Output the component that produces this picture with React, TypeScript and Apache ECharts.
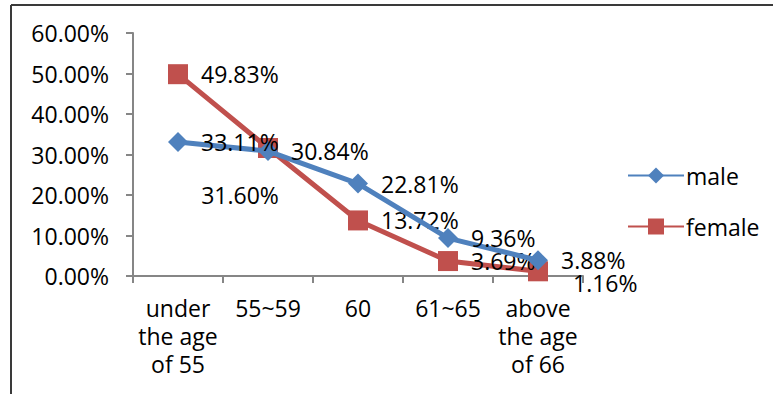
import React, { useEffect, useRef } from "react";
import * as echarts from "echarts";

const categories = ["under\nthe age\nof 55", "55~59", "60", "61~65", "above\nthe age\nof 66"];
const maleValues = [33.11, 30.84, 22.81, 9.36, 3.88];
const femaleValues = [49.83, 31.6, 13.72, 3.69, 1.16];
const yTicks = [0, 10, 20, 30, 40, 50, 60];

const FONT = "Open Sans";
const FS = 23;

export default function App() {
  const ref = useRef<HTMLDivElement>(null);
  useEffect(() => {
    if (!ref.current) return;
    const chart = echarts.init(ref.current, undefined, { renderer: "svg" });
    const labelBase = {
      show: true,
      position: "right" as const,
      distance: 13,
      color: "#000",
      fontFamily: FONT,
      fontSize: FS,
      formatter: (p: any) => p.value.toFixed(2) + "%",
    };
    const femaleData = femaleValues.map((v, i) => {
      if (i === 1) {
        return { value: v, label: { position: "bottom", distance: 25, offset: [-28, 0] } };
      }
      if (i === 4) {
        return { value: v, label: { offset: [12, 12] } };
      }
      return v;
    });
    chart.setOption({
      animation: false,
      textStyle: { fontFamily: FONT },
      grid: { left: 133, top: 33, right: 190, bottom: 118, containLabel: false },
      legend: {
        orient: "vertical",
        left: 622,
        top: 159,
        itemWidth: 56,
        itemHeight: 20,
        itemGap: 28,
        textStyle: { fontFamily: FONT, fontSize: FS, color: "#000", padding: [0, 0, 0, -3] },
        data: ["male", "female"],
      },
      xAxis: {
        type: "category",
        data: categories,
        boundaryGap: true,
        axisLine: { lineStyle: { color: "#868686", width: 2 } },
        axisTick: { show: true, length: 7, lineStyle: { color: "#868686", width: 2 } },
        axisLabel: { color: "#000", fontFamily: FONT, fontSize: FS, lineHeight: 28, margin: 18, interval: 0 },
      },
      yAxis: {
        type: "value",
        min: 0,
        max: 60,
        interval: 10,
        splitLine: { show: false },
        axisLine: { show: true, lineStyle: { color: "#868686", width: 2 } },
        axisTick: { show: true, length: 7, lineStyle: { color: "#868686", width: 2 } },
        axisLabel: {
          color: "#000",
          fontFamily: FONT,
          fontSize: FS,
          margin: 24,
          formatter: (v: number) => (yTicks.includes(v) ? v.toFixed(2) + "%" : ""),
        },
      },
      series: [
        {
          name: "male",
          type: "line",
          data: maleValues,
          symbol: "diamond",
          symbolSize: 20,
          lineStyle: { color: "#4F81BD", width: 5 },
          itemStyle: { color: "#4F81BD" },
          label: labelBase,
          z: 3,
        },
        {
          name: "female",
          type: "line",
          data: femaleData,
          symbol: "rect",
          symbolSize: 20,
          lineStyle: { color: "#C0504D", width: 5 },
          itemStyle: { color: "#C0504D" },
          label: labelBase,
          z: 2,
        },
      ],
      graphic: [
        { type: "line", shape: { x1: 11, y1: 5, x2: 773, y2: 5 }, style: { stroke: "#3a3a3a", lineWidth: 2 } },
        { type: "line", shape: { x1: 11, y1: 5, x2: 11, y2: 394 }, style: { stroke: "#3a3a3a", lineWidth: 2 } },
      ],
    });
    return () => chart.dispose();
  }, []);
  return (
    <div
      ref={ref}
      style={{ position: "fixed", left: 0, top: 0, width: 773, height: 394, background: "#fff" }}
    />
  );
}
